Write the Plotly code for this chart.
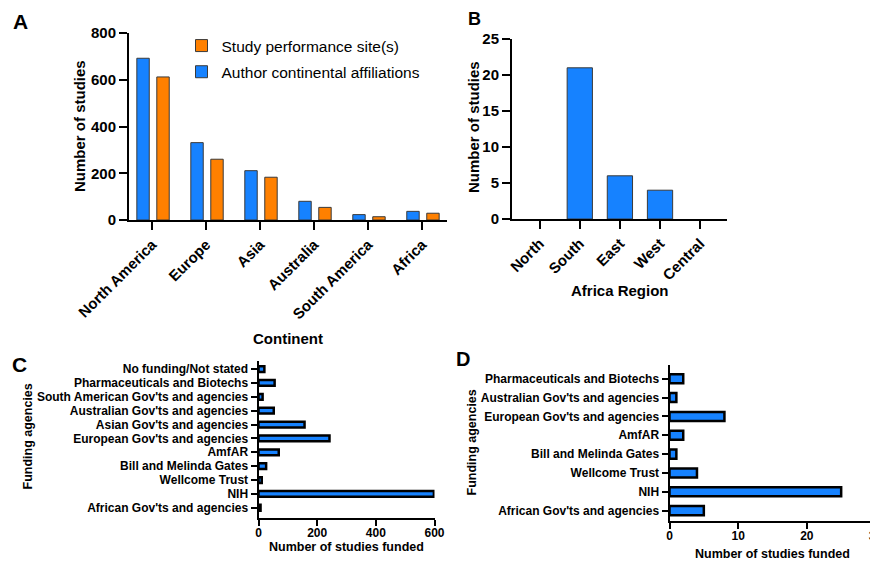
import plotly.graph_objects as go

# page shows the figure with an 8px body margin; build a figure that fits the window
PAGE_OFF = 8
W, H = 878 - PAGE_OFF, 562 - PAGE_OFF

# ---------------- data ----------------
continents = ["North America", "Europe", "Asia", "Australia", "South America", "Africa"]
author_affil = [692, 331, 211, 80, 23, 37]
study_site = [612, 260, 183, 54, 14, 29]

africa_regions = ["North", "South", "East", "West", "Central"]
africa_counts = [0, 21, 6, 4, 0]

c_agencies = ["African Gov'ts and agencies", "NIH", "Wellcome Trust", "Bill and Melinda Gates",
              "AmfAR", "European Gov'ts and agencies", "Asian Gov'ts and agencies",
              "Australian Gov'ts and agencies", "South American Gov'ts and agencies",
              "Pharmaceuticals and Biotechs", "No funding/Not stated"]
c_counts = [7, 598, 11, 26, 69, 242, 157, 52, 14, 55, 20]

d_agencies = ["African Gov'ts and agencies", "NIH", "Wellcome Trust", "Bill and Melinda Gates",
              "AmfAR", "European Gov'ts and agencies", "Australian Gov'ts and agencies",
              "Pharmaceuticals and Biotechs"]
d_counts = [5, 25, 4, 1, 2, 8, 1, 2]

a_yticks = [0, 200, 400, 600, 800]
b_yticks = [0, 5, 10, 15, 20, 25]
c_xticks = [0, 200, 400, 600]
d_xticks = [0, 10, 20, 30]

BLUE = "#1682FF"
ORANGE = "#FF8000"
FONT = "Liberation Sans, Arial, sans-serif"


def px_x(p):
    return (p - PAGE_OFF) / W


def px_y(p):
    return 1 - (p - PAGE_OFF) / H


fig = go.Figure()

# Panel A (orange added first so the legend lists it first; positions set by offset)
fig.add_trace(go.Bar(x=continents, y=study_site, name="Study performance site(s)",
                     legendgroup="g1",
                     marker=dict(color=ORANGE, line=dict(color="#3a3a3a", width=1)),
                     width=0.23, offset=0.085, xaxis="x", yaxis="y"))
fig.add_trace(go.Bar(x=continents, y=author_affil, name="Author continental affiliations",
                     legendgroup="g2",
                     marker=dict(color=BLUE, line=dict(color="#3a3a3a", width=1)),
                     width=0.23, offset=-0.285, xaxis="x", yaxis="y"))
# Panel B (no outline on empty categories)
fig.add_trace(go.Bar(x=africa_regions, y=africa_counts, showlegend=False,
                     marker=dict(color=BLUE,
                                 line=dict(color="#3a3a3a",
                                           width=[1 if v > 0 else 0 for v in africa_counts])),
                     width=0.63, xaxis="x2", yaxis="y2"))
# Panel C
fig.add_trace(go.Bar(x=c_counts, y=c_agencies, orientation="h", showlegend=False,
                     marker=dict(color=BLUE, line=dict(color="black", width=2.5)),
                     width=0.42, xaxis="x3", yaxis="y3"))
# Panel D
fig.add_trace(go.Bar(x=d_counts, y=d_agencies, orientation="h", showlegend=False,
                     marker=dict(color=BLUE, line=dict(color="black", width=2.5)),
                     width=0.48, xaxis="x4", yaxis="y4"))

big_tick = dict(family=FONT, size=15, color="black", weight="bold")
small_tick = dict(family=FONT, size=12, color="black", weight="bold")
axis_common = dict(showline=True, linecolor="black", linewidth=2, ticks="outside",
                   tickcolor="black", tickwidth=2, showgrid=False, zeroline=False,
                   fixedrange=True, automargin=False)

fig.update_layout(
    width=W, height=H,
    margin=dict(l=0, r=0, t=0, b=0, autoexpand=False),
    paper_bgcolor="white", plot_bgcolor="white",
    barmode="overlay",
    font=dict(family=FONT, color="black"),
    showlegend=True,
    legend=dict(x=px_x(181.5), y=px_y(29), xanchor="left", yanchor="top",
                traceorder="grouped", tracegroupgap=3,
                font=dict(family=FONT, size=15.5, color="black"),
                bgcolor="rgba(0,0,0,0)"),
    xaxis=dict(domain=[px_x(129), px_x(447)], anchor="y", type="category",
               categoryorder="array", categoryarray=continents,
               range=[-0.43, 5.46], tickangle=-45, ticklen=8, tickfont=big_tick,
               **axis_common),
    yaxis=dict(domain=[px_y(220), px_y(33)], anchor="x", range=[0, 800],
               tickvals=a_yticks, ticklen=8, tickfont=big_tick, **axis_common),
    xaxis2=dict(domain=[px_x(512), px_x(727)], anchor="y2", type="category",
                categoryorder="array", categoryarray=africa_regions,
                range=[-0.69, 4.67], tickangle=-45, ticklen=8, tickfont=big_tick,
                **axis_common),
    yaxis2=dict(domain=[px_y(219), px_y(39)], anchor="x2", range=[0, 25],
                tickvals=b_yticks, ticklen=8, tickfont=big_tick, **axis_common),
    xaxis3=dict(domain=[px_x(258.5), px_x(434.5)], anchor="y3", range=[0, 600],
                tickvals=c_xticks, ticklen=6, ticklabelstandoff=-3, tickfont=small_tick,
                **axis_common),
    yaxis3=dict(domain=[px_y(517.5), px_y(361)], anchor="x3", type="category",
                categoryorder="array", categoryarray=c_agencies, tickvals=c_agencies,
                range=[-0.7, 10.58], ticklen=6, tickfont=small_tick, **axis_common),
    xaxis4=dict(domain=[px_x(669.5), px_x(875.5)], anchor="y4", range=[0, 30],
                tickvals=d_xticks, ticklen=6, ticklabelstandoff=-3, tickfont=small_tick,
                ticklabeloverflow="allow", **axis_common),
    yaxis4=dict(domain=[px_y(521), px_y(365)], anchor="x4", type="category",
                categoryorder="array", categoryarray=d_agencies, tickvals=d_agencies,
                range=[-0.55, 7.73], ticklen=6, tickfont=small_tick, **axis_common),
)


def ann(text, x, y, size, angle=0):
    fig.add_annotation(text=text, x=px_x(x), y=px_y(y), xref="paper", yref="paper",
                       xanchor="center", yanchor="middle", showarrow=False,
                       textangle=angle,
                       font=dict(family=FONT, size=size, color="black", weight="bold"))


# panel letters
ann("A", 20, 21, 21)
ann("B", 474, 19, 18)
ann("C", 19, 364.5, 21)
ann("D", 463, 358.5, 20)

# axis titles
ann("Number of studies", 79, 126, 15, -90)
ann("Continent", 288, 338, 15)
ann("Number of studies", 474, 127, 15, -90)
ann("Africa Region", 620, 290, 15)
ann("Funding agencies", 27.5, 437, 12.5, -90)
ann("Number of studies funded", 346.5, 547, 12.5)
ann("Funding agencies", 471.5, 443, 12.5, -90)
ann("Number of studies funded", 772, 554, 12.5)

fig.write_html("out.html")
